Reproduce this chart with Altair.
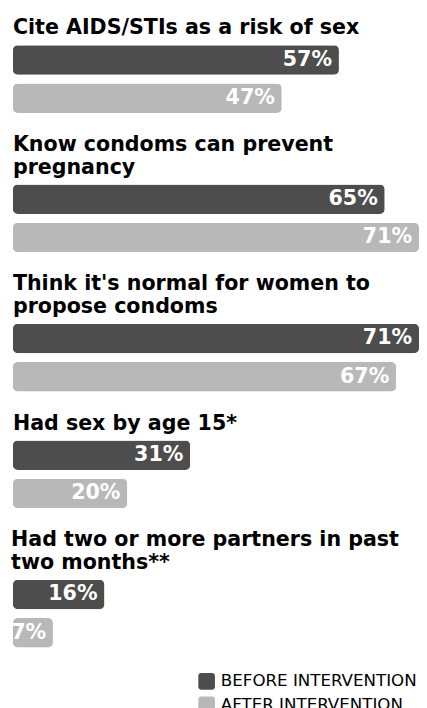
import altair as alt
import pandas as pd

titles = [
    ["Cite AIDS/STIs as a risk of sex"],
    ["Know condoms can prevent", "pregnancy"],
    ["Think it's normal for women to", "propose condoms"],
    ["Had sex by age 15*"],
    ["Had two or more partners in past", "two months**"],
]
before = [57, 65, 71, 31, 16]
after = [47, 71, 67, 20, 7]
series = ["BEFORE INTERVENTION", "AFTER INTERVENTION"]
colors = ["#4d4d4d", "#b8b8b8"]

FONT = "DejaVu Sans"
rounded = ("M -0.65 -1 L 0.65 -1 A 0.35 0.35 0 0 1 1 -0.65 L 1 0.65 "
           "A 0.35 0.35 0 0 1 0.65 1 L -0.65 1 A 0.35 0.35 0 0 1 -1 0.65 "
           "L -1 -0.65 A 0.35 0.35 0 0 1 -0.65 -1 Z")

panels = []
for i, t in enumerate(titles):
    df = pd.DataFrame({
        "series": series,
        "value": [before[i], after[i]],
        "label": [f"{before[i]}%", f"{after[i]}%"],
    })
    base = alt.Chart(df).encode(
        y=alt.Y("series:N", sort=series, axis=None,
                scale=alt.Scale(paddingInner=0.23, paddingOuter=0)),
        x=alt.X("value:Q", axis=None, scale=alt.Scale(domain=[0, 71], nice=False)),
    )
    bars = base.mark_bar(cornerRadius=5).encode(
        color=alt.Color("series:N", sort=series,
                        scale=alt.Scale(domain=series, range=colors),
                        legend=alt.Legend(title=None, orient="none",
                                          legendX=189, legendY=640,
                                          symbolType=rounded, symbolSize=289,
                                          symbolStrokeWidth=0, symbolOpacity=1,
                                          labelFont=FONT, labelFontSize=17,
                                          labelColor="#000000", rowPadding=6,
                                          labelOffset=6, labelLimit=0))
    )
    text = base.mark_text(align="right", dx=-7, baseline="middle", color="white",
                          font=FONT, fontWeight="bold", fontSize=21).encode(
        text="label:N")
    panel = (bars + text).properties(
        width=414, height=69,
        title=alt.TitleParams(t, anchor="start", font=FONT, fontSize=21,
                              fontWeight="bold", color="#000000",
                              lineHeight=23, offset=7),
    )
    panels.append(panel)

chart = alt.vconcat(*panels, spacing=22).properties(
    padding={"left": 3, "top": 3, "right": 0, "bottom": 0}
).configure_view(stroke=None).configure_concat(spacing=22)

chart.save("out.html", embed_options={"renderer": "svg", "actions": False})
